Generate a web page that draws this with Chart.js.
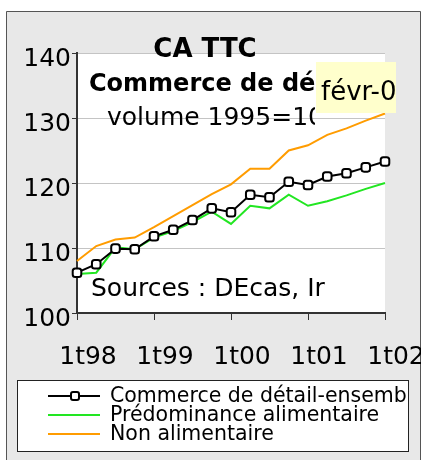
<!DOCTYPE html>
<html>
<head>
<meta charset="utf-8">
<script src="https://cdn.jsdelivr.net/npm/chart.js@4"></script>
<style>
  html, body { margin: 0; padding: 0; background: #fff; }
  #wrap { width: 421px; height: 460px; }
</style>
</head>
<body>
<div id="wrap"><canvas id="chart" width="421" height="460"></canvas></div>
<script>
// ---------------------------------------------------------------------------
// données
// ---------------------------------------------------------------------------
const quarters = [
    "1t98", "2t98", "3t98", "4t98",
    "1t99", "2t99", "3t99", "4t99",
    "1t00", "2t00", "3t00", "4t00",
    "1t01", "2t01", "3t01", "4t01",
    "1t02"
];
const ensemble = [106.2, 107.5, 109.9, 109.8, 111.8, 112.8, 114.3, 116.1, 115.5, 118.2, 117.8, 120.2, 119.7, 121.0, 121.5, 122.4, 123.3];
const alimentaire = [106.0, 106.2, 110.1, 109.8, 111.6, 112.6, 114.0, 115.6, 113.7, 116.5, 116.1, 118.2, 116.5, 117.2, 118.1, 119.1, 120.0];
const nonAlimentaire = [108.0, 110.3, 111.3, 111.6, 113.2, 114.9, 116.6, 118.3, 119.8, 122.2, 122.2, 125.0, 125.8, 127.4, 128.4, 129.6, 130.7];
const seriesNames = ["Commerce de détail-ensemble", "Prédominance alimentaire", "Non alimentaire"];
const titleLines = ["CA TTC", "Commerce de détail", "volume 1995=100"];
const sourceText = "Sources : DEcas, Ir";
const pointLabel = "févr-02";

const FONT = "'DejaVu Sans', Verdana, sans-serif";

// ---------------------------------------------------------------------------
// fond gris + zone de tracé blanche, titre, étiquette, légende
// ---------------------------------------------------------------------------
const framePlugin = {
    id: "frame",
    beforeDraw(chart) {
        const ctx = chart.ctx;
        const a = chart.chartArea;
        ctx.save();
        ctx.fillStyle = "#fff";
        ctx.fillRect(0, 0, chart.width, chart.height);
        ctx.fillStyle = "#e8e8e8";
        ctx.fillRect(6, 11, chart.width - 6, chart.height - 11);
        ctx.strokeStyle = "#555";
        ctx.lineWidth = 1;
        ctx.beginPath();
        ctx.moveTo(6.5, chart.height);
        ctx.lineTo(6.5, 11.5);
        ctx.lineTo(chart.width - 0.5, 11.5);
        ctx.lineTo(chart.width - 0.5, chart.height);
        ctx.stroke();
        ctx.fillStyle = "#fff";
        ctx.fillRect(a.left, a.top, a.right - a.left, a.bottom - a.top);
        ctx.restore();
    },
    afterDraw(chart) {
        const ctx = chart.ctx;
        ctx.save();

        // titre (coupé à droite comme dans l'original)
        ctx.save();
        ctx.beginPath();
        ctx.rect(0, 0, 315, chart.height);
        ctx.clip();
        ctx.fillStyle = "#000";
        ctx.textBaseline = "alphabetic";
        ctx.font = "bold 26px " + FONT;
        ctx.textAlign = "center";
        ctx.fillText(titleLines[0], 205, 57);
        ctx.font = "bold 24px " + FONT;
        ctx.textAlign = "left";
        ctx.fillText(titleLines[1], 89, 91);
        ctx.font = "25px " + FONT;
        ctx.fillText(titleLines[2], 107, 125);
        ctx.restore();

        // étiquette jaune
        ctx.fillStyle = "#ffffcc";
        ctx.fillRect(316, 62, 80, 51);
        ctx.save();
        ctx.beginPath();
        ctx.rect(316, 62, 80, 51);
        ctx.clip();
        ctx.fillStyle = "#000";
        ctx.font = "26px " + FONT;
        ctx.textAlign = "left";
        ctx.fillText(pointLabel, 321, 100);
        ctx.restore();

        // sources
        ctx.fillStyle = "#000";
        ctx.font = "25px " + FONT;
        ctx.textAlign = "left";
        ctx.fillText(sourceText, 91, 296);

        // légende
        const box = { x: 17, y: 380, w: 391, h: 71 };
        ctx.fillStyle = "#fff";
        ctx.fillRect(box.x, box.y, box.w, box.h);
        ctx.strokeStyle = "#222";
        ctx.lineWidth = 1;
        ctx.strokeRect(box.x + 0.5, box.y + 0.5, box.w, box.h);
        ctx.beginPath();
        ctx.rect(box.x + 1, box.y + 1, box.w - 1, box.h - 1);
        ctx.clip();
        const rows = [396, 415, 434];
        chart.data.datasets.forEach((ds, i) => {
            const y = rows[i];
            ctx.strokeStyle = ds.borderColor;
            ctx.lineWidth = 2;
            ctx.beginPath();
            ctx.moveTo(48, y);
            ctx.lineTo(100, y);
            ctx.stroke();
            if (ds.pointRadius > 0) {
                ctx.fillStyle = "#fff";
                ctx.strokeStyle = "#000";
                ctx.lineWidth = 2;
                ctx.beginPath();
                ctx.roundRect(71, y - 4, 8, 8, 2);
                ctx.fill();
                ctx.stroke();
            }
            ctx.fillStyle = "#000";
            ctx.font = "20.5px " + FONT;
            ctx.textBaseline = "middle";
            ctx.fillText(ds.label, 110, y + 1);
        });
        ctx.restore();
    }
};

// ---------------------------------------------------------------------------
// graphique
// ---------------------------------------------------------------------------
new Chart(document.getElementById("chart"), {
    type: "line",
    data: {
        labels: quarters,
        datasets: [
            {
                label: seriesNames[0],
                data: ensemble,
                borderColor: "#000",
                borderWidth: 2,
                pointStyle: "rectRounded",
                pointRadius: 5,
                pointBorderWidth: 2,
                pointBackgroundColor: "#fff",
                pointBorderColor: "#000",
                tension: 0
            },
            {
                label: seriesNames[1],
                data: alimentaire,
                borderColor: "#22e622",
                borderWidth: 2,
                pointRadius: 0,
                tension: 0
            },
            {
                label: seriesNames[2],
                data: nonAlimentaire,
                borderColor: "#ff9c00",
                borderWidth: 2,
                pointRadius: 0,
                tension: 0
            }
        ]
    },
    options: {
        responsive: false,
        animation: false,
        devicePixelRatio: 1,
        layout: { padding: { left: 6, top: 53, right: 36, bottom: 87 } },
        plugins: {
            legend: { display: false },
            tooltip: { enabled: false }
        },
        scales: {
            x: {
                type: "category",
                offset: false,
                grid: { drawOnChartArea: false, tickLength: 7, tickColor: "#333", tickWidth: 1 },
                border: { color: "#333", width: 2 },
                ticks: {
                    autoSkip: false,
                    maxRotation: 0,
                    labelOffset: 11,
                    padding: 22,
                    color: "#000",
                    font: { family: FONT, size: 25 },
                    callback(value) {
                        const l = this.getLabelForValue(value);
                        return l.startsWith("1t") ? l : null;
                    }
                },
                afterFit(scale) {
                    scale.height = 60;
                    scale.paddingLeft = 0;
                    scale.paddingRight = 0;
                }
            },
            y: {
                min: 100,
                max: 140,
                grid: { color: "#c4c4c4", tickColor: "#333", tickLength: 5 },
                border: { color: "#333", width: 2 },
                ticks: {
                    stepSize: 10,
                    padding: 1,
                    labelOffset: 6,
                    color: "#000",
                    font: { family: FONT, size: 25 }
                },
                afterFit(scale) {
                    scale.width = 71;
                    scale.paddingTop = 0;
                    scale.paddingBottom = 0;
                }
            }
        }
    },
    plugins: [framePlugin]
});
</script>
</body>
</html>
